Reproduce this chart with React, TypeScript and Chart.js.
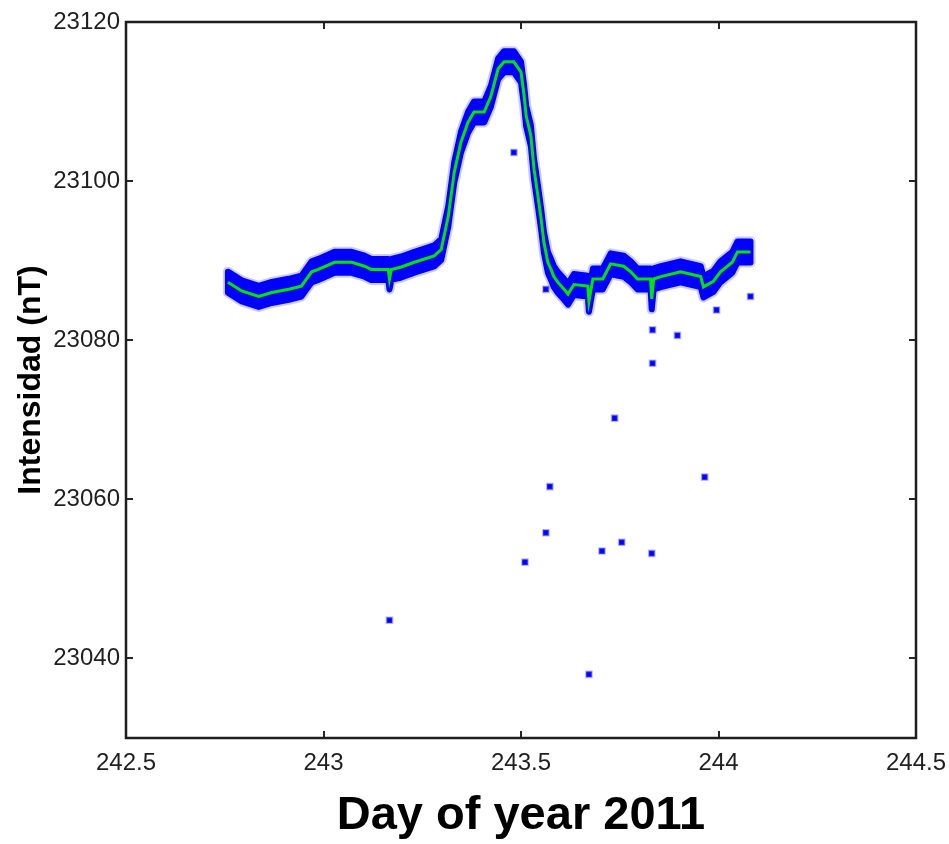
import React, { useEffect, useRef } from "react";
import { Chart, registerables } from "chart.js";

Chart.register(...registerables);

// Axis ticks
const xTicks = [242.5, 243, 243.5, 244, 244.5];
const yTicks = [23040, 23060, 23080, 23100, 23120];

// Smoothed fit (green line); the blue measurement band follows it
const fitDay = [
  242.758, 242.793, 242.836, 242.869, 242.912, 242.944, 242.97, 242.987, 243.028, 243.071,
  243.104, 243.121, 243.164, 243.167, 243.172, 243.197, 243.23, 243.28, 243.298, 243.316,
  243.331, 243.348, 243.366, 243.381, 243.407, 243.424, 243.442, 243.457, 243.482, 243.5,
  243.508, 243.513, 243.525, 243.533, 243.543, 243.551, 243.558, 243.568, 243.576, 243.583,
  243.593, 243.609, 243.619, 243.634, 243.669, 243.672, 243.682, 243.707, 243.727, 243.76,
  243.778, 243.795, 243.828, 243.831, 243.836, 243.854, 243.904, 243.955, 243.962, 243.987,
  244.005, 244.035, 244.048, 244.081,
];
const fitNT = [
  23087.3, 23086.2, 23085.5, 23086.0, 23086.4, 23086.8, 23088.6, 23088.9, 23089.8, 23089.8,
  23089.3, 23088.9, 23088.9, 23087.7, 23088.9, 23089.2, 23089.8, 23090.6, 23091.4, 23095.6,
  23101.1, 23104.9, 23107.4, 23108.7, 23108.7, 23110.7, 23114.1, 23115.0, 23115.0, 23113.7,
  23110.7, 23108.2, 23105.7, 23101.5, 23098.1, 23095.2, 23092.3, 23089.8, 23088.9, 23088.0,
  23087.3, 23086.4, 23085.8, 23087.0, 23086.8, 23084.9, 23087.7, 23087.7, 23089.6, 23089.3,
  23088.6, 23087.7, 23087.7, 23085.2, 23087.7, 23088.0, 23088.6, 23088.0, 23086.7, 23087.4,
  23088.6, 23089.8, 23091.1, 23091.1,
];

// Isolated outlier samples (blue dots)
const outlierDay = [
  243.167, 243.482, 243.51, 243.563, 243.573, 243.672, 243.705, 243.737, 243.755, 243.831,
  243.833, 243.833, 243.896, 243.965, 243.995, 244.081, 243.563,
];
const outlierNT = [
  23044.8, 23103.6, 23052.1, 23055.8, 23061.6, 23038.0, 23053.5, 23070.2, 23054.6, 23053.2,
  23081.3, 23077.1, 23080.6, 23062.8, 23083.8, 23085.5, 23086.4,
];

const FONT = "'Liberation Sans', Arial, sans-serif";

const bandPlugin = {
  id: "band",
  beforeDatasetsDraw(chart: any) {
    const meta = chart.getDatasetMeta(1);
    if (!meta || !meta.data || meta.data.length === 0) return;
    const pts = meta.data.map((e: any) => ({ x: e.x, y: e.y }));
    const h = 10.5;
    const { ctx } = chart;
    ctx.save();
    ctx.beginPath();
    pts.forEach((p: any, i: number) => {
      if (i === 0) ctx.moveTo(p.x, p.y - h);
      else ctx.lineTo(p.x, p.y - h);
    });
    for (let i = pts.length - 1; i >= 0; i--) ctx.lineTo(pts[i].x, pts[i].y + h);
    ctx.closePath();
    ctx.lineJoin = "round";
    ctx.lineCap = "round";
    ctx.strokeStyle = "rgba(110,110,255,0.35)";
    ctx.lineWidth = 10;
    ctx.stroke();
    ctx.fillStyle = "#0000ff";
    ctx.fill();
    ctx.strokeStyle = "#0000ff";
    ctx.lineWidth = 6;
    ctx.stroke();
    ctx.restore();
  },
};

const framePlugin = {
  id: "frame",
  afterDatasetsDraw(chart: any) {
    const { ctx, chartArea: a, scales } = chart;
    const tl = 7;
    ctx.save();
    ctx.strokeStyle = "#262626";
    ctx.lineWidth = 2;
    ctx.beginPath();
    scales.x.ticks.forEach((t: any) => {
      const px = Math.round(scales.x.getPixelForValue(t.value));
      ctx.moveTo(px, a.bottom);
      ctx.lineTo(px, a.bottom - tl);
      ctx.moveTo(px, a.top);
      ctx.lineTo(px, a.top + tl);
    });
    scales.y.ticks.forEach((t: any) => {
      const py = Math.round(scales.y.getPixelForValue(t.value));
      ctx.moveTo(a.left, py);
      ctx.lineTo(a.left + tl, py);
      ctx.moveTo(a.right, py);
      ctx.lineTo(a.right - tl, py);
    });
    ctx.stroke();
    ctx.strokeStyle = "#1e1e1e";
    ctx.lineWidth = 2.5;
    ctx.strokeRect(a.left, a.top, a.right - a.left, a.bottom - a.top);
    ctx.restore();
  },
};

export default function App() {
  const ref = useRef<HTMLCanvasElement | null>(null);

  useEffect(() => {
    if (!ref.current) return;
    const chart = new Chart(ref.current, {
      type: "scatter",
      data: {
        datasets: [
          {
            type: "scatter",
            label: "outliers",
            data: outlierDay.map((d, i) => ({ x: d, y: outlierNT[i] })),
            pointStyle: "rect",
            pointRadius: 4,
            backgroundColor: "#0000ff",
            borderColor: "rgba(80,80,255,0.4)",
            borderWidth: 2,
          },
          {
            type: "line",
            label: "fit",
            data: fitDay.map((d, i) => ({ x: d, y: fitNT[i] })),
            borderColor: "#00e600",
            borderWidth: 3,
            pointRadius: 0,
            tension: 0,
            fill: false,
          } as any,
        ],
      },
      options: {
        animation: false,
        responsive: false,
        layout: { padding: { top: 22, right: 33, left: 0, bottom: 0 } },
        plugins: {
          legend: { display: false },
          tooltip: { enabled: false },
        },
        scales: {
          x: {
            type: "linear",
            min: 242.5,
            max: 244.5,
            afterBuildTicks: (s: any) => {
              s.ticks = xTicks.map((v) => ({ value: v }));
            },
            afterFit: (s: any) => {
              s.height = 106;
              s.paddingLeft = 0;
              s.paddingRight = 0;
            },
            grid: { display: false, drawTicks: false },
            border: { display: false },
            ticks: {
              autoSkip: false,
              maxRotation: 0,
              padding: 11,
              color: "#1f1f1f",
              font: { family: FONT, size: 24 },
              callback: (v: any) => String(v),
            },
            title: {
              display: true,
              text: "Day of year 2011",
              color: "#000",
              padding: { top: 0, bottom: 0 },
              font: { family: FONT, size: 47, weight: "bold" },
            },
          },
          y: {
            type: "linear",
            min: 23030,
            max: 23120,
            afterBuildTicks: (s: any) => {
              s.ticks = yTicks.map((v) => ({ value: v }));
            },
            afterFit: (s: any) => {
              s.width = 126;
              s.paddingTop = 0;
              s.paddingBottom = 0;
            },
            grid: { display: false, drawTicks: false },
            border: { display: false },
            ticks: {
              padding: 6,
              color: "#1f1f1f",
              font: { family: FONT, size: 24 },
              callback: (v: any) => String(v),
            },
            title: {
              display: true,
              text: "Intensidad (nT)",
              color: "#000",
              padding: { top: 12, bottom: 0 },
              font: { family: FONT, size: 32, weight: "bold" },
            },
          },
        },
      },
      plugins: [bandPlugin, framePlugin],
    });
    return () => chart.destroy();
  }, []);

  return (
    <div style={{ position: "fixed", left: 0, top: 0, width: 949, height: 844, background: "#fff" }}>
      <canvas ref={ref} width={949} height={844} style={{ display: "block" }} />
    </div>
  );
}
